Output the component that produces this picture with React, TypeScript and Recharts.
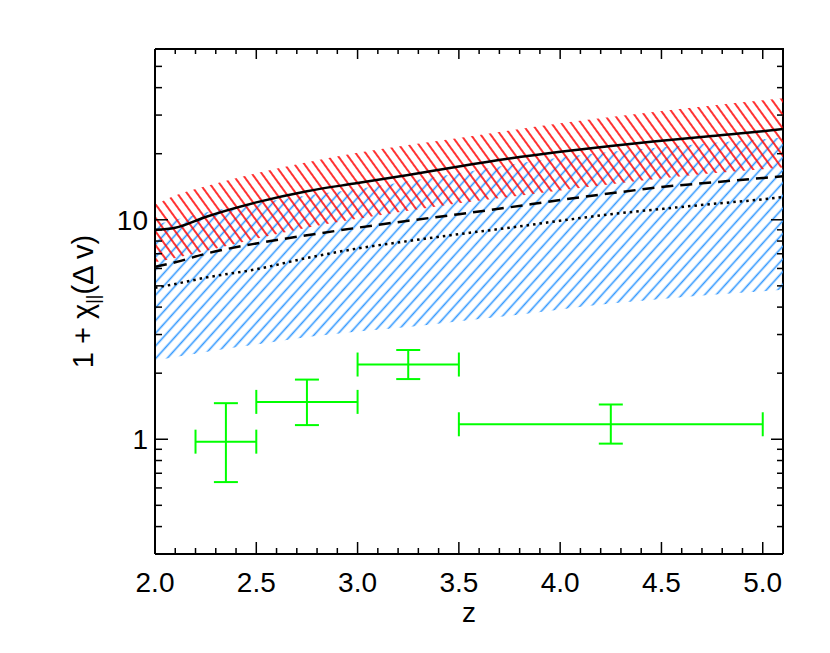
import { Area, ComposedChart, ErrorBar, Line, Scatter, XAxis, YAxis } from "recharts";

// redshift grid for the model curves / bands
const zGrid = [2.0, 2.1, 2.25, 2.5, 2.75, 3.0, 3.25, 3.5, 3.75, 4.0, 4.25, 4.5, 4.75, 5.0, 5.1];
const solid = [9.0, 9.2, 10.3, 12.0, 13.5, 14.7, 16.0, 17.5, 19.0, 20.4, 21.7, 22.9, 24.1, 25.3, 25.9];
const dashed = [6.1, 6.4, 7.0, 7.8, 8.5, 9.2, 9.9, 10.6, 11.4, 12.3, 13.2, 14.1, 14.8, 15.5, 15.8];
const dotted = [4.9, 5.1, 5.45, 5.95, 6.7, 7.4, 8.0, 8.6, 9.2, 9.9, 10.6, 11.2, 11.8, 12.4, 12.7];
const redLo = [6.4, 6.7, 7.2, 8.2, 9.2, 10.1, 11.0, 11.9, 12.7, 13.6, 14.5, 15.4, 16.3, 17.0, 17.3];
const redHi = [11.7, 12.9, 14.2, 16.3, 18.3, 20.2, 21.9, 23.6, 25.5, 27.5, 29.4, 31.3, 33.2, 35.0, 35.8];
const blueLo = [2.28, 2.37, 2.5, 2.7, 2.92, 3.1, 3.25, 3.45, 3.65, 3.9, 4.15, 4.35, 4.55, 4.72, 4.8];
const blueHi = [9.5, 10.0, 10.8, 11.9, 12.9, 13.8, 15.0, 16.3, 17.8, 19.2, 20.4, 21.4, 22.4, 23.3, 23.7];

// measurements (green crosses)
const obsZ = [2.35, 2.75, 3.25, 4.25];
const obsZLo = [2.2, 2.5, 3.0, 3.5];
const obsZHi = [2.5, 3.0, 3.5, 5.0];
const obsV = [0.975, 1.48, 2.19, 1.17];
const obsVLo = [0.638, 1.16, 1.88, 0.955];
const obsVHi = [1.46, 1.87, 2.55, 1.44];

const xTicks = [
  2.0, 2.1, 2.2, 2.3, 2.4, 2.5, 2.6, 2.7, 2.8, 2.9, 3.0, 3.1, 3.2, 3.3, 3.4, 3.5, 3.6, 3.7,
  3.8, 3.9, 4.0, 4.1, 4.2, 4.3, 4.4, 4.5, 4.6, 4.7, 4.8, 4.9, 5.0,
];
const yTicks = [0.4, 0.5, 0.6, 0.7, 0.8, 0.9, 1, 2, 3, 4, 5, 6, 7, 8, 9, 10, 20, 30, 40, 50];
const yLabels = [1, 10];

const W = 814;
const H = 637;
const M = { top: 40, right: 38, bottom: 11, left: 0 };
const Y_W = 147;
const X_H = 80;
const FONT = "'Liberation Sans', Arial, Helvetica, sans-serif";

const plotL = M.left + Y_W;
const plotR = W - M.right - 1;
const plotT = M.top + 1;
const plotB = H - M.bottom - X_H;

const rows = zGrid.map((z, i) => ({
  z,
  solid: solid[i],
  dashed: dashed[i],
  dotted: dotted[i],
  red: [redLo[i], redHi[i]],
  blue: [blueLo[i], blueHi[i]],
}));

const points = obsZ.map((z, i) => ({
  z,
  v: obsV[i],
  ex: [z - obsZLo[i], obsZHi[i] - z],
  ey: [obsV[i] - obsVLo[i], obsVHi[i] - obsV[i]],
}));

const isMajorX = (v: number) => Math.abs(v * 2 - Math.round(v * 2)) < 1e-6;

// IDL-style inward ticks: the axis position comes from the plot box, the tick position from recharts
function BottomTick({ x, payload }: any) {
  const major = isMajorX(payload.value);
  return (
    <g>
      <line x1={x} x2={x} y1={plotB} y2={plotB - (major ? 12 : 6)} stroke="#000" strokeWidth={1.5} />
      {major && (
        <text x={x} y={plotB + 38} textAnchor="middle" fontSize={28} fontFamily={FONT} fill="#000">
          {payload.value.toFixed(1)}
        </text>
      )}
    </g>
  );
}

function TopTick({ x, payload }: any) {
  const major = isMajorX(payload.value);
  return <line x1={x} x2={x} y1={plotT} y2={plotT + (major ? 10 : 5)} stroke="#000" strokeWidth={1.5} />;
}

function LeftTick({ y, payload }: any) {
  const major = yLabels.includes(payload.value);
  return (
    <g>
      <line x1={plotL} x2={plotL + (major ? 13 : 7)} y1={y} y2={y} stroke="#000" strokeWidth={1.5} />
      {major && (
        <text x={plotL - 7} y={y} dy="0.36em" textAnchor="end" fontSize={28} fontFamily={FONT} fill="#000">
          {payload.value}
        </text>
      )}
    </g>
  );
}

function RightTick({ y, payload }: any) {
  const major = yLabels.includes(payload.value);
  return <line x1={plotR} x2={plotR - (major ? 12 : 6)} y1={y} y2={y} stroke="#000" strokeWidth={1.5} />;
}

export default function App() {
  return (
    <ComposedChart width={W} height={H} data={rows} margin={M} style={{ fontFamily: FONT }}>
      <defs>
        <pattern id="blueHatch" patternUnits="userSpaceOnUse" width={8.5} height={10} patternTransform="rotate(42)">
          <line x1={4.25} x2={4.25} y1={0} y2={10} stroke="#3399ff" strokeWidth={1.6} />
        </pattern>
        <pattern id="redHatch" patternUnits="userSpaceOnUse" width={8} height={10} patternTransform="rotate(-36)">
          <line x1={4} x2={4} y1={0} y2={10} stroke="#ff0000" strokeWidth={1.6} />
        </pattern>
      </defs>

      <XAxis
        xAxisId="b"
        dataKey="z"
        type="number"
        domain={[2.0, 5.1]}
        ticks={xTicks}
        interval={0}
        tickSize={0}
        tickMargin={0}
        tickLine={false}
        tick={<BottomTick />}
        height={X_H}
        axisLine={{ stroke: "#000", strokeWidth: 2 }}
        allowDataOverflow
      />
      <XAxis
        xAxisId="t"
        orientation="top"
        dataKey="z"
        type="number"
        domain={[2.0, 5.1]}
        ticks={xTicks}
        interval={0}
        tickSize={0}
        tickMargin={0}
        tickLine={false}
        tick={<TopTick />}
        height={1}
        axisLine={false}
        allowDataOverflow
      />
      <YAxis
        yAxisId="l"
        scale="log"
        type="number"
        domain={[0.3, 60]}
        ticks={yTicks}
        interval={0}
        tickSize={0}
        tickMargin={0}
        tickLine={false}
        tick={<LeftTick />}
        width={Y_W}
        axisLine={{ stroke: "#000", strokeWidth: 2 }}
        allowDataOverflow
      />
      <YAxis
        yAxisId="r"
        orientation="right"
        scale="log"
        type="number"
        domain={[0.3, 60]}
        ticks={yTicks}
        interval={0}
        tickSize={0}
        tickMargin={0}
        tickLine={false}
        tick={<RightTick />}
        width={1}
        axisLine={false}
        allowDataOverflow
      />

      <Area xAxisId="b" yAxisId="l" type="monotone" dataKey="blue" stroke="none" fill="url(#blueHatch)" fillOpacity={1} isAnimationActive={false} />
      <Area xAxisId="b" yAxisId="l" type="monotone" dataKey="red" stroke="none" fill="url(#redHatch)" fillOpacity={1} isAnimationActive={false} />

      <Line xAxisId="b" yAxisId="l" type="monotone" dataKey="dotted" stroke="#000" strokeWidth={2.5} strokeDasharray="2.5 4" dot={false} isAnimationActive={false} />
      <Line xAxisId="b" yAxisId="l" type="monotone" dataKey="dashed" stroke="#000" strokeWidth={2.5} strokeDasharray="12 7" dot={false} isAnimationActive={false} />
      <Line xAxisId="b" yAxisId="l" type="monotone" dataKey="solid" stroke="#000" strokeWidth={2.5} dot={false} isAnimationActive={false} />

      <Scatter xAxisId="b" yAxisId="l" data={points} dataKey="v" shape={() => <g />} isAnimationActive={false}>
        <ErrorBar dataKey="ex" direction="x" width={12} stroke="#00ff00" strokeWidth={2} />
        <ErrorBar dataKey="ey" direction="y" width={12} stroke="#00ff00" strokeWidth={2} />
      </Scatter>

      {/* plot frame (top and right sides) */}
      <path d={`M${plotL},${plotT} H${plotR} V${plotB}`} fill="none" stroke="#000" strokeWidth={2} />

      <text x={(plotL + plotR) / 2} y={plotB + 68} textAnchor="middle" fontSize={28} fontFamily={FONT} fill="#000">
        z
      </text>
      <text
        x={85}
        y={(plotT + plotB) / 2}
        transform={`rotate(-90, 85, ${(plotT + plotB) / 2})`}
        textAnchor="middle"
        fontSize={29}
        fontFamily={FONT}
        fill="#000"
      >
        1 + χ<tspan fontSize={18} dy={6}>||</tspan>
        <tspan dy={-6}>(Δ v)</tspan>
      </text>
    </ComposedChart>
  );
}
